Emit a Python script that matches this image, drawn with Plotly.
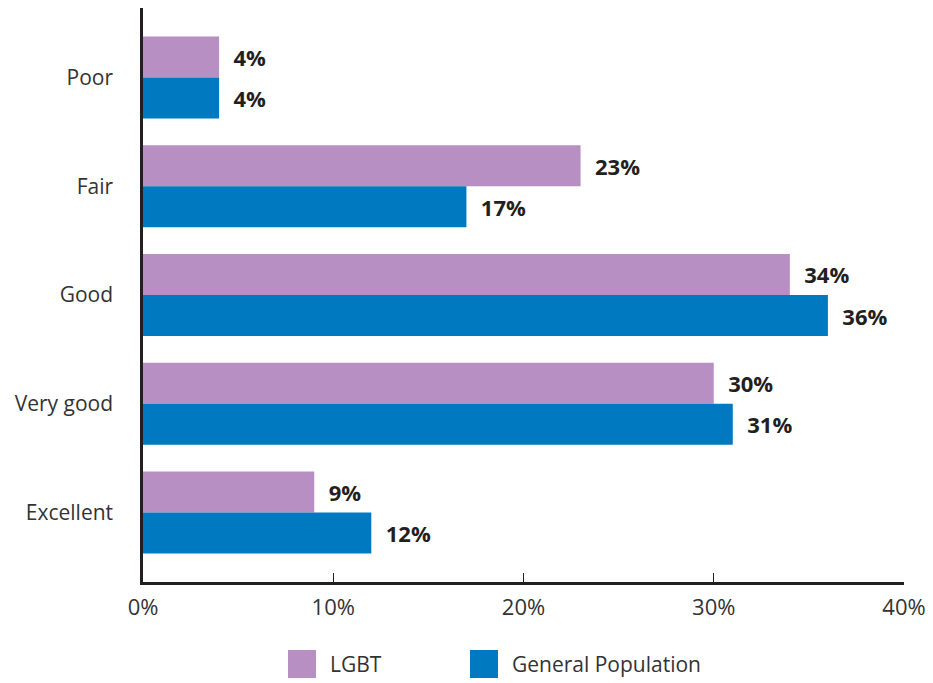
import plotly.graph_objects as go

# self-rated health, % of respondents
categories = ["Poor", "Fair", "Good", "Very good", "Excellent"]
lgbt = [4, 23, 34, 30, 9]
general_pop = [4, 17, 36, 31, 12]
x_ticks = [0, 10, 20, 30, 40]
x_tick_labels = ["0%", "10%", "20%", "30%", "40%"]

PURPLE = "#B88FC2"
BLUE = "#0079C1"
INK = "#231F20"
FONT = "Open Sans"

fig = go.Figure()
for name, vals, color in [("LGBT", lgbt, PURPLE), ("General Population", general_pop, BLUE)]:
    fig.add_trace(go.Bar(
        y=categories,
        x=vals,
        orientation="h",
        name=name,
        marker=dict(color=color, line=dict(width=0)),
        text=[f"\u00a0\u00a0{v}%" for v in vals],
        textposition="outside",
        textfont=dict(family=FONT, size=22, color=INK, weight="bold"),
        cliponaxis=False,
        hoverinfo="skip",
    ))

fig.update_layout(
    barmode="group",
    bargap=0.245,
    bargroupgap=0,
    width=933,
    height=683,
    showlegend=False,
    plot_bgcolor="white",
    paper_bgcolor="white",
    font=dict(family=FONT, size=21, color="#333"),
    margin=dict(l=143, r=29, t=8, b=101),
    xaxis=dict(
        range=[0, 40],
        tickvals=x_ticks,
        ticktext=x_tick_labels,
        tickfont=dict(size=22),
        showgrid=False,
        zeroline=False,
        showline=True,
        linecolor=INK,
        linewidth=2.5,
        ticks="inside",
        ticklen=9,
        tickwidth=1.2,
        tickcolor=INK,
        ticklabelstandoff=4,
    ),
    yaxis=dict(
        range=[4.64, -0.64],
        showgrid=False,
        zeroline=False,
        showline=True,
        linecolor=INK,
        linewidth=2.5,
        ticks="",
        ticklabelstandoff=23,
    ),
)

# legend drawn below the plot with large square swatches
legend_items = [("LGBT", PURPLE, 288), ("General Population", BLUE, 470)]
for label, color, px in legend_items:
    x0 = (px - 143) / 761
    x1 = (px + 28 - 143) / 761
    fig.add_shape(type="rect", xref="paper", yref="paper",
                  x0=x0, x1=x1, y0=(582 - 678) / 574, y1=(582 - 650) / 574,
                  fillcolor=color, line=dict(width=0))
    fig.add_annotation(xref="paper", yref="paper", x=(px + 40 - 143) / 761,
                       y=(582 - 664) / 574, text=label, showarrow=False,
                       xanchor="left", yanchor="middle",
                       font=dict(family=FONT, size=21, color="#333"))

fig.write_html("out.html", config={"displayModeBar": False},
               post_script="document.body.style.margin='0px';")
